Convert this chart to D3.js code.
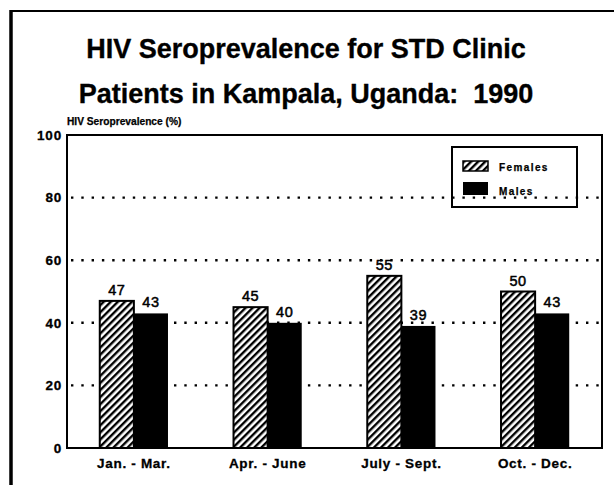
<!DOCTYPE html>
<html>
<head>
<meta charset="utf-8">
<script src="https://cdn.jsdelivr.net/npm/d3@7/dist/d3.min.js"></script>
<style>
  html, body { margin: 0; padding: 0; background: #fff; }
  svg { display: block; font-family: "Liberation Sans", Arial, Helvetica, sans-serif; }
</style>
</head>
<body>
<svg id="chart" width="614" height="485"></svg>
<script>
// Quarterly HIV seroprevalence (%) among STD clinic patients, Kampala 1990
const quarters = ["Jan. - Mar.", "Apr. - June", "July - Sept.", "Oct. - Dec."];
const seriesNames = ["Females", "Males"];
const females = [47, 45, 55, 50];
const males = [43, 40, 39, 43];
const yTicks = [0, 20, 40, 60, 80, 100];
const gridTicks = [20, 40, 60, 80];
const titleLines = ["HIV Seroprevalence for STD Clinic", "Patients in Kampala, Uganda:  1990"];
const yTitle = "HIV Seroprevalence (%)";

const svg = d3.select("#chart");
const W = 614, H = 485;
const plot = { left: 67, right: 602, top: 135, bottom: 448 };

// hatch fill for the female bars
const defs = svg.append("defs");
defs.append("pattern")
  .attr("id", "hatch")
  .attr("patternUnits", "userSpaceOnUse")
  .attr("width", 5)
  .attr("height", 5)
  .attr("patternTransform", "rotate(45)")
  .call(p => {
    p.append("rect").attr("width", 5).attr("height", 5).attr("fill", "#fff");
    p.append("line").attr("x1", 1.2).attr("y1", 0).attr("x2", 1.2).attr("y2", 5)
      .attr("stroke", "#000").attr("stroke-width", 2.4);
  });

// page frame (top and left rules)
svg.append("line").attr("x1", 10).attr("x2", W).attr("y1", 11).attr("y2", 11)
  .attr("stroke", "#000").attr("stroke-width", 2);
svg.append("line").attr("x1", 11).attr("x2", 11).attr("y1", 10).attr("y2", H)
  .attr("stroke", "#000").attr("stroke-width", 3.5);

// title
svg.append("g").selectAll("text").data(titleLines).join("text")
  .attr("x", 306)
  .attr("y", (d, i) => 58 + i * 45)
  .attr("text-anchor", "middle")
  .attr("font-size", 27)
  .attr("font-weight", "bold")
  .attr("stroke", "#000")
  .attr("stroke-width", 0.35)
  .style("white-space", "pre")
  .text(d => d);

const x0 = d3.scaleBand().domain(quarters).range([plot.left, plot.right])
  .paddingInner(0.49).paddingOuter(0.245);
const x1 = d3.scaleBand().domain(seriesNames).range([0, x0.bandwidth()]);
const y = d3.scaleLinear().domain([0, 100]).range([plot.bottom, plot.top]);

// dotted gridlines
svg.append("g").selectAll("line").data(gridTicks).join("line")
  .attr("x1", plot.left + 4).attr("x2", plot.right)
  .attr("y1", d => y(d)).attr("y2", d => y(d))
  .attr("stroke", "#000").attr("stroke-width", 2.4)
  .attr("stroke-dasharray", "2.4 7.9");

// y axis
const yAxis = svg.append("g")
  .attr("transform", `translate(${plot.left},0)`)
  .call(d3.axisLeft(y).tickValues(yTicks).tickSize(0).tickPadding(5));
yAxis.select(".domain").remove();
yAxis.selectAll("text")
  .attr("font-family", null)
  .attr("font-size", 13.5)
  .attr("font-weight", "bold")
  .attr("letter-spacing", 0.8)
  .attr("stroke", "#000")
  .attr("stroke-width", 0.3)
  .attr("fill", "#000");

svg.append("text")
  .attr("x", plot.left)
  .attr("y", 125)
  .attr("font-size", 10.2)
  .attr("font-weight", "bold")
  .attr("stroke", "#000")
  .attr("stroke-width", 0.25)
  .text(yTitle);

// x axis
const xAxis = svg.append("g")
  .attr("transform", `translate(0,${plot.bottom})`)
  .call(d3.axisBottom(x0).tickSize(0).tickPadding(10));
xAxis.select(".domain").remove();
xAxis.selectAll("text")
  .attr("font-family", null)
  .attr("font-size", 13.5)
  .attr("font-weight", "bold")
  .attr("letter-spacing", 0.7)
  .attr("stroke", "#000")
  .attr("stroke-width", 0.3)
  .attr("fill", "#000");

// bars
const rows = quarters.map((q, i) => ({ q, values: [
  { key: "Females", v: females[i] },
  { key: "Males", v: males[i] }
]}));

const groups = svg.append("g").selectAll("g").data(rows).join("g")
  .attr("transform", d => `translate(${x0(d.q)},0)`);

groups.selectAll("rect").data(d => d.values).join("rect")
  .attr("x", d => x1(d.key))
  .attr("y", d => y(d.v))
  .attr("width", x1.bandwidth())
  .attr("height", d => y(0) - y(d.v))
  .attr("fill", d => d.key === "Females" ? "url(#hatch)" : "#000")
  .attr("stroke", "#000")
  .attr("stroke-width", d => d.key === "Females" ? 2 : 0);

groups.selectAll("text").data(d => d.values).join("text")
  .attr("x", d => x1(d.key) + x1.bandwidth() / 2)
  .attr("y", d => y(d.v) - 6)
  .attr("text-anchor", "middle")
  .attr("font-size", 14.5)
  .attr("stroke", "#000")
  .attr("stroke-width", 0.5)
  .attr("letter-spacing", 0.5)
  .text(d => d.v);

// plot frame
svg.append("rect")
  .attr("x", plot.left).attr("y", plot.top)
  .attr("width", plot.right - plot.left).attr("height", plot.bottom - plot.top)
  .attr("fill", "none").attr("stroke", "#000").attr("stroke-width", 2);

// legend
const legend = svg.append("g").attr("transform", "translate(452,147)");
legend.append("rect").attr("width", 125).attr("height", 60)
  .attr("fill", "none").attr("stroke", "#000").attr("stroke-width", 2);
const items = legend.selectAll("g").data(seriesNames).join("g")
  .attr("transform", (d, i) => `translate(11,${14 + i * 21})`);
items.append("rect")
  .attr("width", 25).attr("height", (d, i) => i === 0 ? 10 : 13)
  .attr("fill", d => d === "Females" ? "url(#hatch)" : "#000")
  .attr("stroke", "#000").attr("stroke-width", d => d === "Females" ? 1.5 : 0);
items.append("text")
  .attr("x", 36)
  .attr("y", (d, i) => i === 0 ? 9.5 : 13)
  .attr("font-size", 10)
  .attr("font-weight", "bold")
  .attr("letter-spacing", 1.4)
  .attr("stroke", "#000")
  .attr("stroke-width", 0.25)
  .text(d => d);
</script>
</body>
</html>
